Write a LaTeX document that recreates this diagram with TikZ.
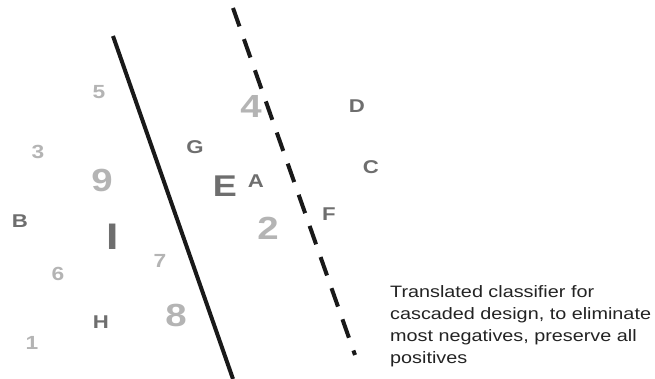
\documentclass[tikz,border=0pt]{standalone}
\usepackage{fontspec}
\setmainfont{Liberation Sans}[FakeStretch=1.2]
\usetikzlibrary{positioning}
\definecolor{posgray}{RGB}{180,180,180}
\definecolor{neggray}{RGB}{110,110,110}
\definecolor{notegray}{RGB}{35,35,35}
\tikzset{
  possm/.style={text=posgray,inner sep=0pt,font=\bfseries\fontsize{19}{19}\selectfont},
  posbig/.style={text=posgray,inner sep=0pt,font=\bfseries\fontsize{32}{32}\selectfont},
  negsm/.style={text=neggray,inner sep=0pt,font=\bfseries\fontsize{18.5}{18.5}\selectfont},
  negbig/.style={text=neggray,inner sep=0pt,font=\bfseries\fontsize{30}{30}\selectfont},
  border/.style={line width=4pt,draw=black!90}
}

\begin{document}
\begin{tikzpicture}[x=1pt,y=-1pt]
  \useasboundingbox (0,0) rectangle (655,379);

  % positives (light)
  \node[possm] (p5) at (99,92) {5};
  \node[possm] (p3) at (38,152) {3};
  \node[posbig] (p9) at (102,180) {9};
  \node[possm] (p7) at (160,261) {7};
  \node[possm] (p6) at (58,274) {6};
  \node[posbig] (p8) at (176,315) {8};
  \node[possm] (p1) at (32,343) {1};
  \node[posbig] (p4) at (251,106) {4};
  \node[posbig] (p2) at (268,228) {2};

  % negatives (dark)
  \node[negsm] (nB) at (20,221) {B};
  \node[negbig,font=\bfseries\fontsize{37}{37}\selectfont] (nI) at (113,237) {I};
  \node[negsm] (nH) at (101,322) {H};
  \node[negsm] (nG) at (195,147) {G};
  \node[negbig] (nE) at (225,186) {E};
  \node[negsm] (nA) at (256,181) {A};
  \node[negsm] (nD) at (357,106) {D};
  \node[negsm] (nC) at (371,167) {C};
  \node[negsm] (nF) at (329,214) {F};

  % classifiers
  \coordinate (solidtop) at (113,36);
  \coordinate (solidbot) at (233,379);
  \coordinate (dashtop) at (233,8);
  \coordinate (dashbot) at (355,355);
  \draw[border] (solidtop) -- (solidbot);
  \draw[border,dash pattern=on 19.5pt off 13.5pt] (dashtop) -- (dashbot);

  \node[text=notegray,inner sep=0pt,anchor=north west,align=left,
        font=\fontsize{16.5}{22}\selectfont] (note) at (390,285)
    {Translated classifier for\\cascaded design, to eliminate\\most negatives, preserve all\\positives};
\end{tikzpicture}
\end{document}
